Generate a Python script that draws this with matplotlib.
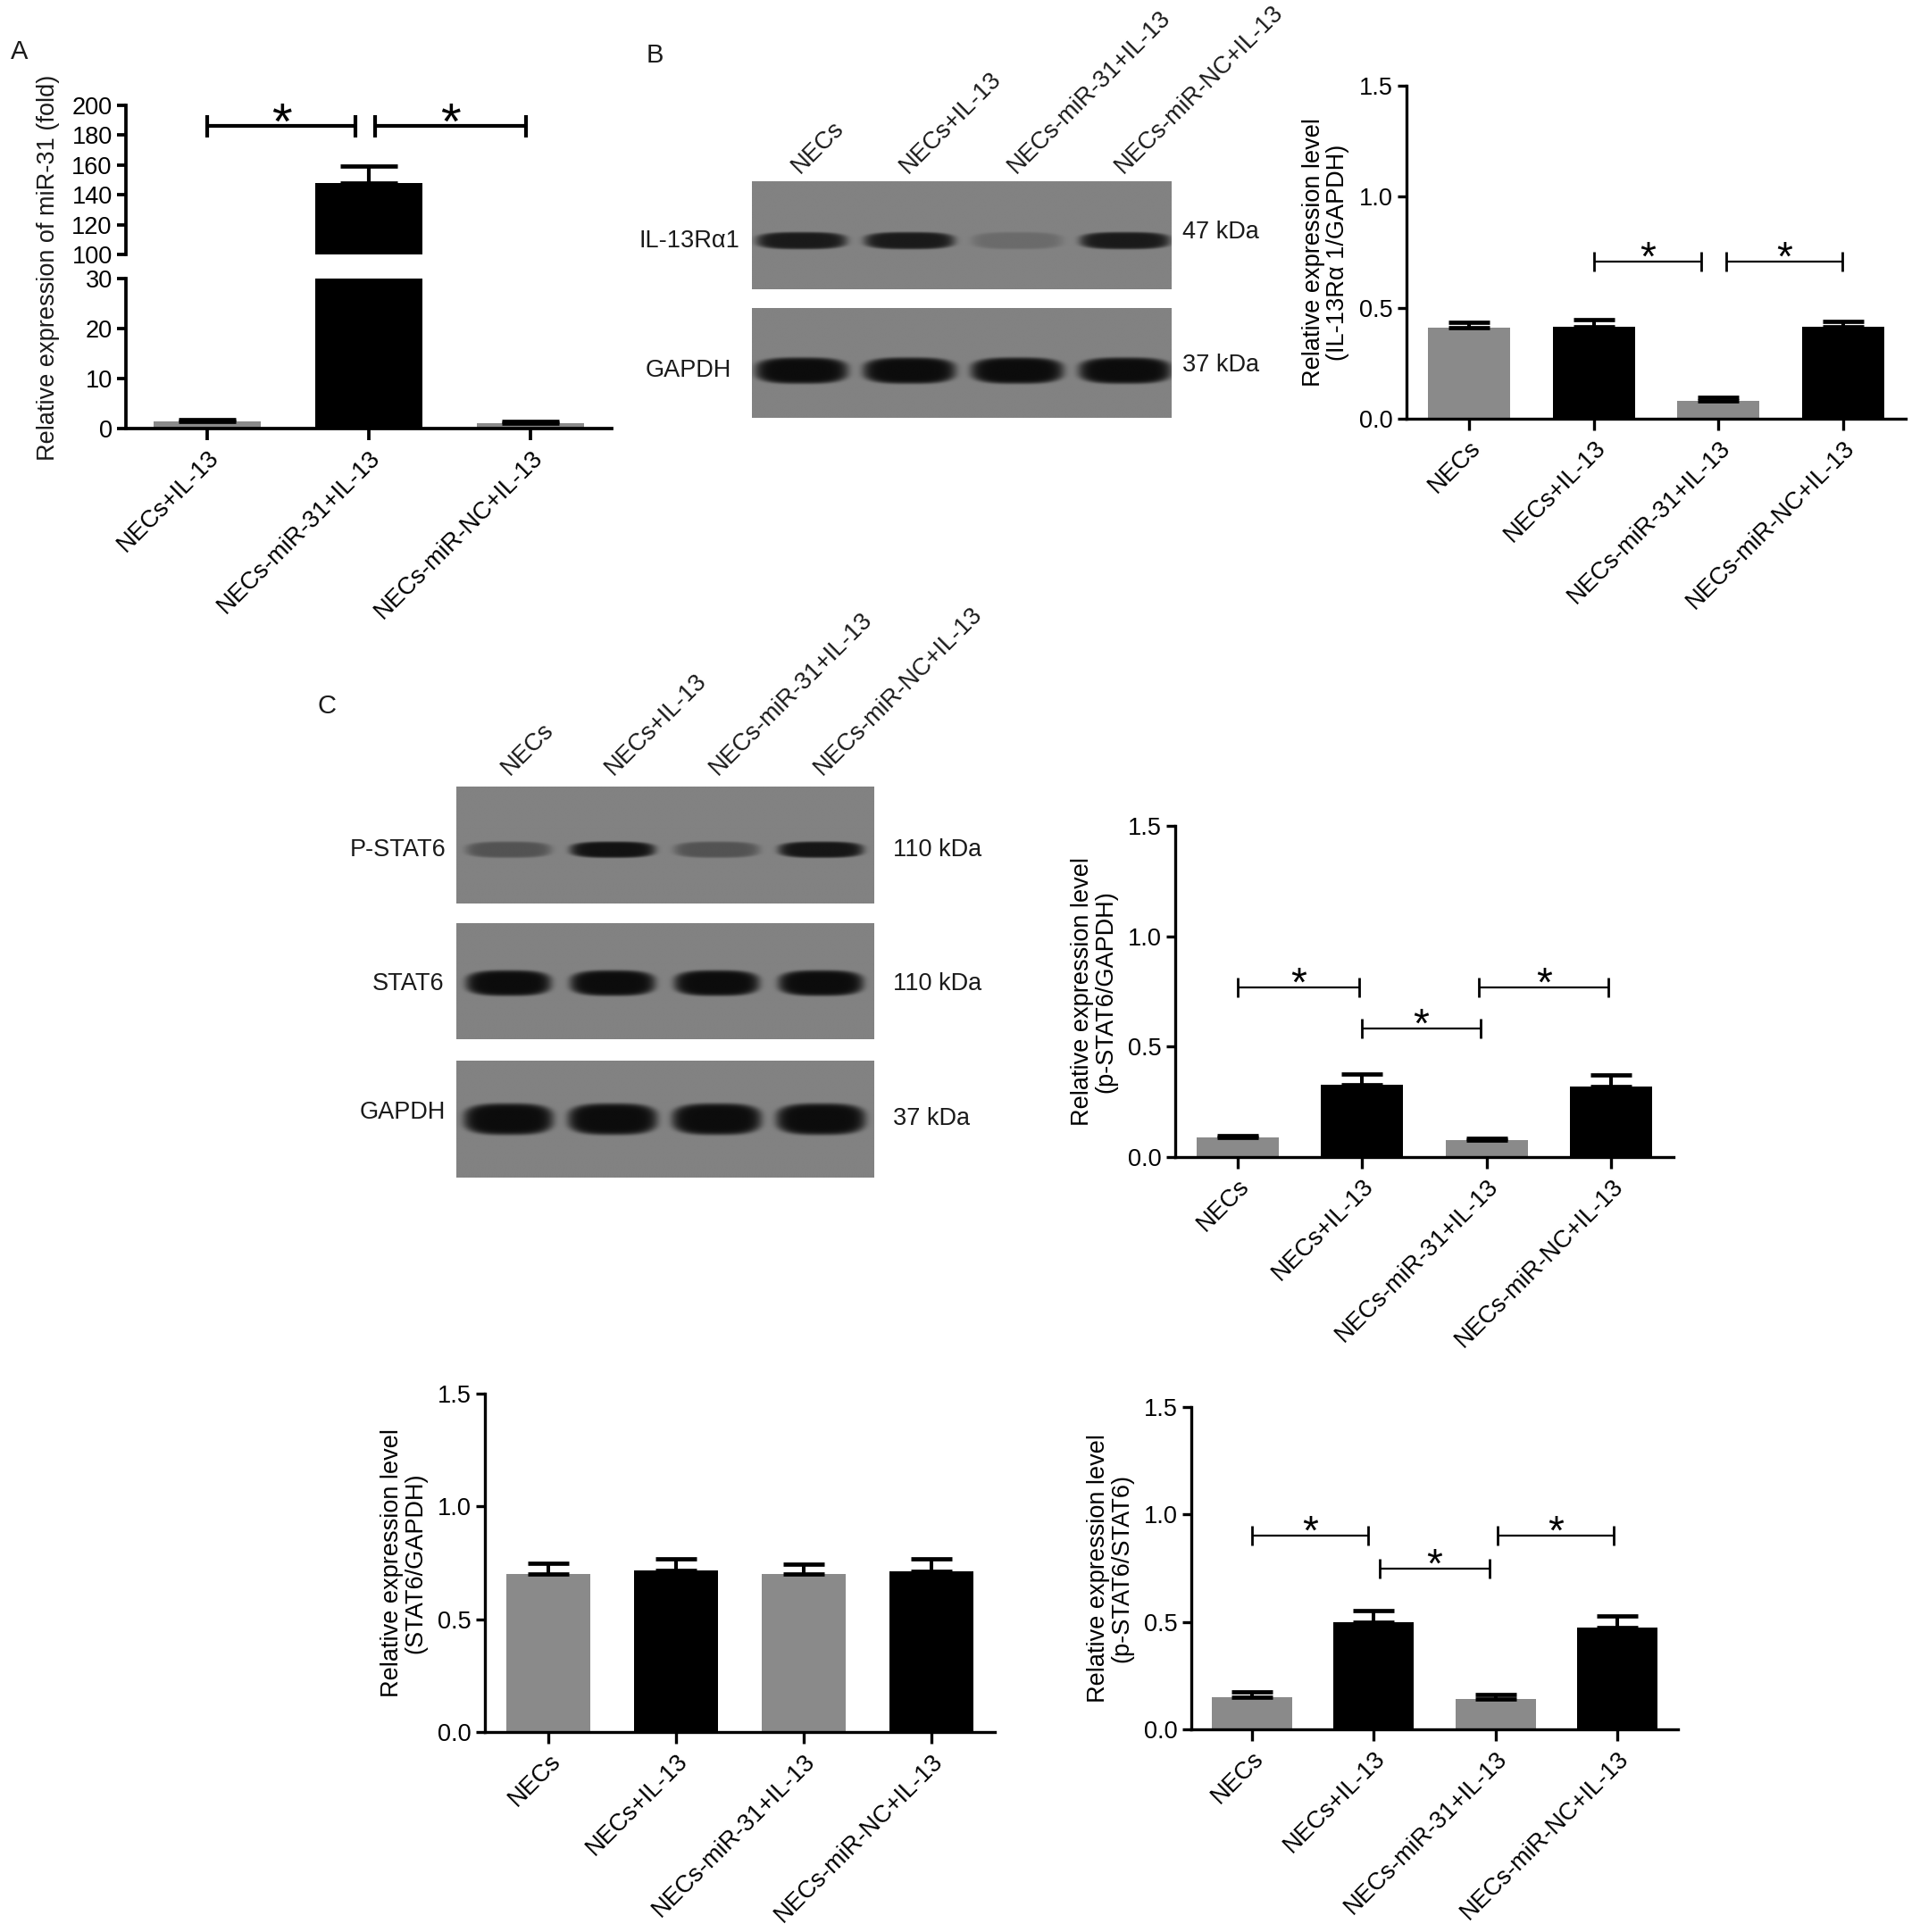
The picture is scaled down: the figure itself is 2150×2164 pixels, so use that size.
#!/usr/bin/env python3
"""miR-31 / IL-13Ra1 / STAT6 figure: bar charts with SEM error bars and western blot strips."""

import matplotlib

matplotlib.use("Agg")
import matplotlib.pyplot as plt
import numpy as np
from matplotlib.transforms import blended_transform_factory

plt.rcParams["font.family"] = ["Liberation Sans", "DejaVu Sans"]
plt.rcParams["font.size"] = 19
plt.rcParams["text.color"] = "#1a1a1a"

W, H = 2150, 2164
GRAY = "#8a8a8a"
BLACK = "#000000"
FS = 19.5

# ---- data -------------------------------------------------------------
groups4 = ["NECs", "NECs+IL-13", "NECs-miR-31+IL-13", "NECs-miR-NC+IL-13"]
groups3 = ["NECs+IL-13", "NECs-miR-31+IL-13", "NECs-miR-NC+IL-13"]
colors3 = [GRAY, BLACK, GRAY]
colors4 = [GRAY, BLACK, GRAY, BLACK]

# A: relative expression of miR-31 (fold)
mir31_mean = [1.45, 148.0, 1.05]
mir31_err = [0.4, 11.0, 0.4]
mir31_sig = [(0.0, 0.92, 186.0), (1.04, 1.97, 186.0)]

# B: IL-13Ra1 / GAPDH
il13_mean = [0.41, 0.415, 0.08, 0.415]
il13_err = [0.025, 0.03, 0.015, 0.025]
il13_sig = [(1.0, 1.86, 0.706), (2.06, 2.99, 0.706)]

# C: p-STAT6 / GAPDH
pg_mean = [0.09, 0.327, 0.075, 0.318]
pg_err = [0.008, 0.05, 0.01, 0.052]
pg_sig = [(0.0, 0.98, 0.769), (1.0, 1.95, 0.582), (1.94, 2.98, 0.769)]

# C: STAT6 / GAPDH
sg_mean = [0.70, 0.716, 0.70, 0.711]
sg_err = [0.05, 0.053, 0.045, 0.055]

# C: p-STAT6 / STAT6
ps_mean = [0.151, 0.50, 0.141, 0.474]
ps_err = [0.025, 0.053, 0.021, 0.052]
ps_sig = [(0.0, 0.95, 0.901), (1.05, 1.95, 0.746), (2.02, 2.97, 0.901)]

# blot band intensities (0 = no band, 1 = saturated)
blot_b_il13 = [0.88, 0.88, 0.2, 0.88]
blot_b_gapdh = [1.0, 1.0, 1.0, 1.0]
blot_c_pstat6 = [0.4, 0.95, 0.4, 0.92]
blot_c_stat6 = [1.0, 1.0, 1.0, 1.0]
blot_c_gapdh = [1.0, 1.0, 1.0, 1.0]

fig = plt.figure(figsize=(W / 100, H / 100), dpi=100)


def px_axes(x0, y0, x1, y1):
    return fig.add_axes([x0 / W, 1 - y1 / H, (x1 - x0) / W, (y1 - y0) / H])


def style_axis(ax, lw=2.4):
    for side in ("top", "right"):
        ax.spines[side].set_visible(False)
    for side in ("left", "bottom"):
        ax.spines[side].set_linewidth(lw)
    ax.tick_params(axis="y", direction="out", length=7, width=lw, labelsize=FS, pad=4)
    ax.tick_params(axis="x", direction="out", length=9, width=lw, labelsize=FS, pad=5)


def draw_bars(ax, means, errs, colors, capsize=16.5, lw=2.9, cap_lw=3.4):
    x = np.arange(len(means))
    ax.bar(x, means, width=0.66, color=colors, zorder=2)
    ax.errorbar(x, means, yerr=[np.zeros(len(errs)), errs], fmt="none", ecolor="black",
                elinewidth=lw, capsize=capsize, capthick=cap_lw, zorder=3)
    return x


def brackets(ax, sig, lw=1.6, ms=16, mew=2.0, star_size=33, star_off=-7):
    for x1, x2, y in sig:
        ax.plot([x1, x2], [y, y], color="black", lw=lw, marker="|", markersize=ms,
                markeredgewidth=mew, solid_capstyle="butt", zorder=4, clip_on=False)
        ax.annotate("*", xy=((x1 + x2) / 2, y), xytext=(0, star_off), textcoords="offset points",
                    ha="center", va="baseline", fontsize=star_size, color="black")


def set_xlabels(ax, labels):
    ax.set_xticks(np.arange(len(labels)))
    ax.set_xticklabels(labels, rotation=45, ha="right", rotation_mode="anchor")


def bar_panel(box, means, errs, sig, ylabel):
    ax = px_axes(*box)
    style_axis(ax)
    draw_bars(ax, means, errs, colors4)
    ax.set_xlim(-0.5, 3.5)
    ax.set_ylim(0, 1.5)
    ax.set_yticks([0.0, 0.5, 1.0, 1.5])
    ax.set_yticklabels(["0.0", "0.5", "1.0", "1.5"])
    set_xlabels(ax, groups4)
    ax.set_ylabel(ylabel, fontsize=FS, labelpad=8, linespacing=1.05)
    if sig:
        brackets(ax, sig)
    return ax


def blot_strip(box, intensities, yc, hh, hw, xlim, name, name_x, name_y, kda, kda_x, kda_y):
    ax = px_axes(*box)
    xs = np.linspace(xlim[0], xlim[1], 900)
    ys = np.linspace(0, 1, 300)
    gx, gy = np.meshgrid(xs, ys)
    img = np.full(gx.shape, 0.51)
    for i, a in enumerate(intensities):
        d = ((np.abs(gx - i) / hw) ** 3 + (np.abs(gy - yc) / hh) ** 3) ** (1 / 3)
        band = a * np.exp(-d ** 10)
        img = img * (1 - band) + 0.05 * band
    ax.imshow(img, extent=[xlim[0], xlim[1], 0, 1], origin="lower", cmap="gray",
              vmin=0, vmax=1, aspect="auto", interpolation="bilinear")
    ax.set_xlim(*xlim)
    ax.set_ylim(0, 1)
    ax.set_xticks([])
    ax.set_yticks([])
    for s in ax.spines.values():
        s.set_visible(False)
    ax.text(name_x, name_y, name, transform=ax.transAxes, ha="right", va="center", fontsize=FS)
    ax.text(kda_x, kda_y, kda, transform=ax.transAxes, ha="left", va="center", fontsize=FS)
    return ax


def lane_labels(ax, labels, dx, dy):
    tr = blended_transform_factory(ax.transData, ax.transAxes)
    for i, lab in enumerate(labels):
        ax.text(i + dx, 1 + dy, lab, transform=tr, rotation=45, ha="left", va="bottom",
                rotation_mode="anchor", fontsize=FS)


# ---- panel A: broken y axis -------------------------------------------
ax_top = px_axes(141, 118, 685, 285)
ax_bot = px_axes(141, 312, 685, 480)
for ax in (ax_top, ax_bot):
    style_axis(ax, lw=2.7)
    draw_bars(ax, mir31_mean, mir31_err, colors3, capsize=23, lw=3.0, cap_lw=3.4)
    ax.set_xlim(-0.5, 2.5)
ax_top.set_ylim(100, 200)
ax_top.set_yticks(np.arange(100, 201, 20))
ax_top.spines["bottom"].set_visible(False)
ax_top.tick_params(axis="x", bottom=False, labelbottom=False)
ax_bot.set_ylim(0, 30)
ax_bot.set_yticks([0, 10, 20, 30])
set_xlabels(ax_bot, groups3)
brackets(ax_top, mir31_sig, lw=3.0, ms=18, mew=3.0, star_size=42, star_off=-10)
fig.text(54 / W, 1 - 300 / H, "Relative expression of miR-31 (fold)", rotation=90,
         ha="center", va="center", fontsize=FS)

# ---- panel B -----------------------------------------------------------
xlim_b = (-0.46, 3.43)
blot_b1 = blot_strip((842, 203, 1312, 324), blot_b_il13, 0.45, 0.08, 0.42, xlim_b,
                     "IL-13R\u03b11", -0.03, 0.45, "47 kDa", 1.025, 0.53)
blot_b2 = blot_strip((842, 345, 1312, 468), blot_b_gapdh, 0.43, 0.12, 0.43, xlim_b,
                     "GAPDH", -0.05, 0.43, "37 kDa", 1.025, 0.48)
lane_labels(blot_b1, groups4, 0.02, 0.03)

bar_panel((1575, 96, 2134, 469), il13_mean, il13_err, il13_sig,
          "Relative expression level\n(IL-13R\u03b1 1/GAPDH)")

# ---- panel C -----------------------------------------------------------
xlim_c = (-0.5, 3.51)
blot_c1 = blot_strip((511, 881, 979, 1012), blot_c_pstat6, 0.46, 0.07, 0.41, xlim_c,
                     "P-STAT6", -0.025, 0.46, "110 kDa", 1.045, 0.46)
blot_strip((511, 1034, 979, 1164), blot_c_stat6, 0.48, 0.11, 0.41, xlim_c,
           "STAT6", -0.03, 0.48, "110 kDa", 1.045, 0.48)
blot_strip((511, 1188, 979, 1319), blot_c_gapdh, 0.50, 0.135, 0.43, xlim_c,
           "GAPDH", -0.025, 0.56, "37 kDa", 1.045, 0.50)
lane_labels(blot_c1, groups4, 0.045, 0.06)

bar_panel((1316, 925, 1874, 1296), pg_mean, pg_err, pg_sig,
          "Relative expression level\n(p-STAT6/GAPDH)")
bar_panel((543, 1561, 1114, 1940), sg_mean, sg_err, None,
          "Relative expression level\n(STAT6/GAPDH)")
bar_panel((1334, 1576, 1879, 1937), ps_mean, ps_err, ps_sig,
          "Relative expression level\n(p-STAT6/STAT6)")

# panel letters
fig.text(22 / W, 1 - 58 / H, "A", ha="center", va="center", fontsize=21)
fig.text(733 / W, 1 - 62 / H, "B", ha="center", va="center", fontsize=21)
fig.text(366 / W, 1 - 791 / H, "C", ha="center", va="center", fontsize=21)

fig.savefig("out.png", dpi=100, facecolor="white")
